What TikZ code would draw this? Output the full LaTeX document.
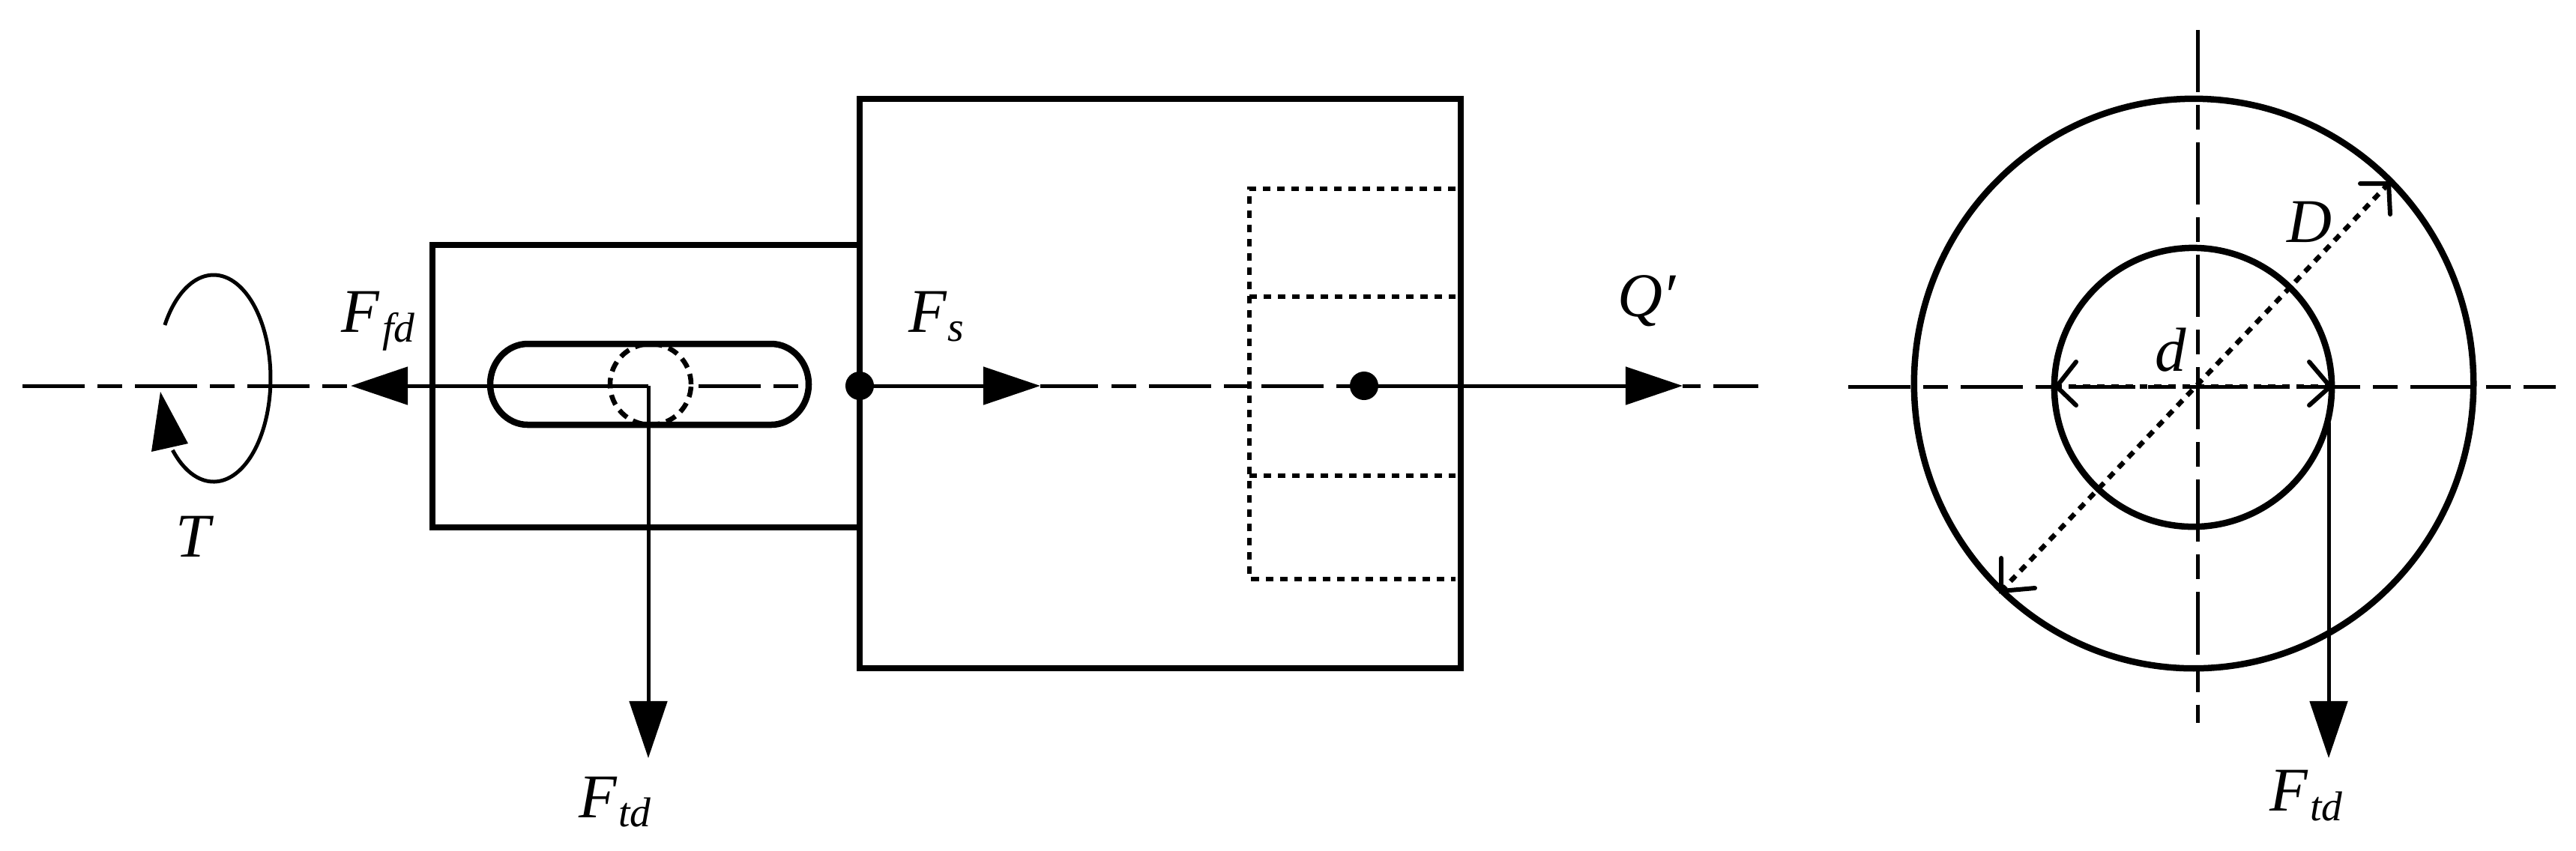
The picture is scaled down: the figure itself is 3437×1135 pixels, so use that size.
\documentclass[tikz,border=0pt]{standalone}
\usepackage{fontspec}
\setmainfont{Liberation Serif}
\usetikzlibrary{arrows.meta}
\newcommand{\bigit}[1]{\fontsize{23.6pt}{26pt}\selectfont\itshape #1}
\newcommand{\smallit}[1]{\fontsize{15.8pt}{18pt}\selectfont\itshape #1}
\tikzset{
  x=0.01cm,y=-0.01cm,
  thickline/.style={line width=0.085cm,line join=miter},
  thinline/.style={line width=0.05cm},
  axisline/.style={line width=0.05cm,dash pattern=on 0.83cm off 0.17cm on 0.33cm off 0.17cm},
  dotline/.style={line width=0.065cm,dash pattern=on 0.1cm off 0.09cm},
  force/.style={thinline,-{Triangle[length=0.76cm,width=0.5cm]}},
  openhead/.style={line width=0.06cm,line cap=round},
  lbl/.style={anchor=base west,inner sep=0pt,outer sep=0pt},
  joint/.style={circle,fill=black,inner sep=0pt,minimum size=0.38cm}
}
\begin{document}
\begin{tikzpicture}
\fill[white] (0,0) rectangle (3437,1135);
\useasboundingbox (0,0) rectangle (3437,1135);
% key points
\coordinate (axL) at (30,515);
\coordinate (FfdTip) at (468,515);
\coordinate (key) at (865,515);
\coordinate (FtdTipL) at (865,1012);
\coordinate (FsTip) at (1388,515);
\coordinate (QTip) at (2245,515);
\coordinate (FtdStartR) at (3107,564);
\coordinate (FtdTipR) at (3107,1012);
\coordinate (cc) at (2927,512);
\coordinate (ci) at (2926,517);
% axis segments
\draw[axisline] (axL) -- (FfdTip);
\draw[axisline] (932,515) -- (1066,515);
\draw[axisline,dash phase=1cm] (1483,515) -- (1816,515);
\draw[thinline] (FsTip) -- (1465,515);
\draw[thinline,dash pattern=on 0.24cm off 0.17cm on 0.6cm off 0.1cm] (QTip) -- (2346,515);
% torque
\draw[thinline] plot[domain=149:-136,samples=80,smooth] ({285+76*cos(\x)},{505-138*sin(\x)});
\fill (214,523) -- (202,603) -- (251,592) -- cycle;
% bodies
\draw[thickline] (1147,327) -- (577,327) -- (577,704) -- (1147,704);
\draw[thickline] (1147,132) rectangle (1949,892);
% key slot
\draw[thickline] (704,459) -- (1029,459) .. controls (1056,459) and (1079,483) .. (1079,513)
  .. controls (1079,543) and (1056,567) .. (1029,567) -- (704,567)
  .. controls (677,567) and (654,543) .. (654,513) .. controls (654,483) and (677,459) .. (704,459) -- cycle;
\draw[line width=0.065cm,dash pattern=on 0.14cm off 0.09cm] (868,513) circle[radius=0.54cm];
% hidden spline
\draw[dotline] (1942,252) -- (1667,252) -- (1667,773) -- (1942,773);
\draw[dotline] (1667,396) -- (1942,396);
\draw[dotline] (1667,635) -- (1942,635);
% forces
\draw[force] (key) -- (FfdTip);
\draw[force] (key) -- (FtdTipL);
\draw[force] (1147,515) -- (FsTip);
\draw[force] (1820,515) -- (QTip);
\node[joint] (jA) at (1147,515) {};
\node[joint] (jB) at (1820,515) {};
% end view
\draw[thickline] (cc) ellipse[x radius=3.73cm,y radius=3.8cm];
\draw[thickline] (ci) ellipse[x radius=1.85cm,y radius=1.86cm];
\draw[axisline] (2466,516) -- (3410,516);
\draw[axisline] (2932,40) -- (2932,965);
\draw[dotline] (2741,516) -- (3111,516);
\draw[dotline] (3187,245) -- (2670,789);
\draw[openhead] (3149,245) -- (3187,245) -- (3189,286);
\draw[openhead] (2670,745) -- (2670,789) -- (2715,785);
\draw[openhead] (2770,483) -- (2744,516) -- (2770,541);
\draw[openhead] (3081,483) -- (3109,516) -- (3081,541);
\draw[force] (FtdStartR) -- (FtdTipR);
% labels
\node[lbl] (lFfd) at (455,443) {\bigit{F}};
\node[lbl] (lFfds) at (510,456) {\smallit{fd}};
\node[lbl] (lT) at (234,743) {\bigit{T}};
\node[lbl] (lFs) at (1212,443) {\bigit{F}};
\node[lbl] (lFss) at (1264,455) {\smallit{s}};
\node[lbl] (lQ) at (2158,422) {\bigit{Q\char"2032}};
\node[lbl] (lD) at (3051,323) {\bigit{D}};
\node[lbl] (ld) at (2875,495) {\bigit{d}};
\node[lbl] (lFt) at (772,1091) {\bigit{F}};
\node[lbl] (lFts) at (825,1103) {\smallit{td}};
\node[lbl] (lFr) at (3028,1082) {\bigit{F}};
\node[lbl] (lFrs) at (3082,1095) {\smallit{td}};
\end{tikzpicture}
\end{document}
